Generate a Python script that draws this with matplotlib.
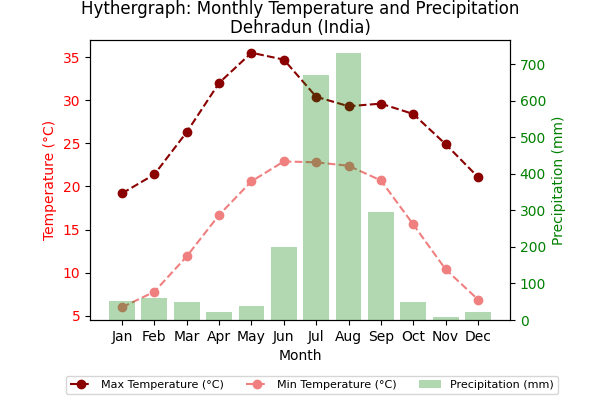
import matplotlib
matplotlib.use("Agg")
import matplotlib.pyplot as plt
import numpy as np

months = ["Jan", "Feb", "Mar", "Apr", "May", "Jun", "Jul", "Aug", "Sep", "Oct", "Nov", "Dec"]
max_temp = [19.2, 21.4, 26.3, 32.0, 35.5, 34.7, 30.4, 29.3, 29.6, 28.4, 24.9, 21.1]
min_temp = [6.0, 7.8, 11.9, 16.7, 20.6, 22.9, 22.8, 22.4, 20.7, 15.6, 10.4, 6.9]
precip = [53, 60, 48, 21, 39, 201, 672, 730, 297, 48, 7, 23]

fig, ax = plt.subplots(figsize=(6, 4), dpi=100)
fig.subplots_adjust(left=0.15, right=0.85, top=0.9, bottom=0.2)

x = np.arange(len(months))
l1, = ax.plot(x, max_temp, "o--", color="darkred", label="Max Temperature (°C)")
l2, = ax.plot(x, min_temp, "o--", color="lightcoral", label="Min Temperature (°C)")
ax.set_ylabel("Temperature (°C)", color="red")
ax.tick_params(axis="y", labelcolor="red")
ax.set_xlabel("Month")
ax.set_xticks(x)
ax.set_xticklabels(months)

ax2 = ax.twinx()
bars = ax2.bar(x, precip, color="green", alpha=0.3, label="Precipitation (mm)")
ax2.set_ylabel("Precipitation (mm)", color="green")
ax2.tick_params(axis="y", labelcolor="green")

ax.set_title("Hythergraph: Monthly Temperature and Precipitation\nDehradun (India)",
             pad=5, linespacing=1.05)

fig.legend([l1, l2, bars], [l1.get_label(), l2.get_label(), bars.get_label()],
           loc="lower center", bbox_to_anchor=(0.52, 0.0), ncol=3, fontsize=8)

fig.savefig("out.png", dpi=100)
